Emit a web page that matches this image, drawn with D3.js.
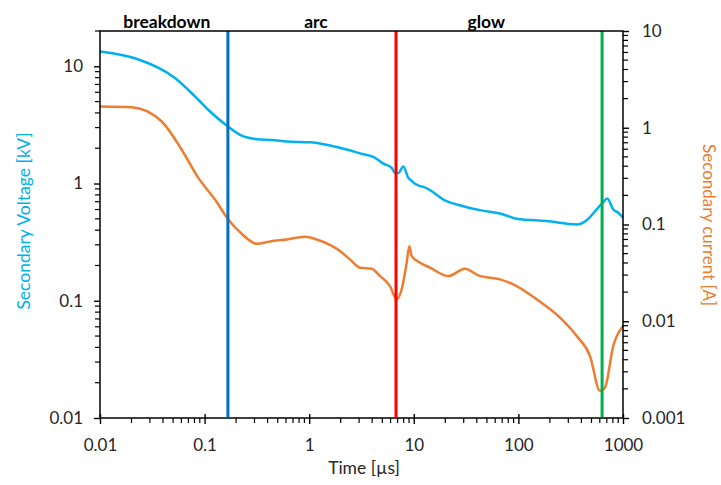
<!DOCTYPE html>
<html><head><meta charset="utf-8">
<script src="https://cdn.jsdelivr.net/npm/d3@7"></script>
<style>
body{margin:0;background:#fff;}
text{font-family:Lato,"Open Sans",sans-serif;}
</style></head>
<body><svg id="c" width="721" height="485"></svg>
<script>
// Time [µs] samples and values
const voltageTime = [0.01,0.0216,0.0521,0.0809,0.108,0.167,0.226,0.303,0.471,0.61,1.02,1.58,2.28,3.29,4.1,5.11,6.15,6.61,7.11,7.94,8.86,9.2,11.46,12.33,20.6,29.7,42.9,71.7,96.3,186,361,450,560,640,708,807,902,1000];
const voltageKV   = [13.4,11.7,7.94,5.53,4.26,3.07,2.56,2.40,2.34,2.28,2.25,2.11,1.95,1.78,1.69,1.48,1.36,1.23,1.23,1.40,1.12,1.08,0.95,0.937,0.707,0.641,0.593,0.545,0.501,0.478,0.448,0.487,0.601,0.686,0.745,0.601,0.563,0.511];
const currentTime = [0.01,0.0201,0.0389,0.0604,0.0871,0.1257,0.1685,0.230,0.315,0.422,0.61,0.912,1.18,1.97,2.45,3.06,3.96,4.75,5.92,6.86,7.66,8.55,9.06,9.55,11.46,14.3,21.4,30.9,41.4,66.7,89.4,149.6,250,361,483,603,673,807,1000];
const currentA    = [1.66,1.63,1.16,0.593,0.303,0.181,0.1127,0.0789,0.0632,0.0668,0.070,0.0747,0.070,0.0531,0.0436,0.0358,0.0349,0.0293,0.0231,0.01686,0.0214,0.0403,0.0597,0.0471,0.0403,0.0358,0.0293,0.0349,0.0298,0.0271,0.0241,0.01686,0.01092,0.00705,0.00439,0.00191,0.00207,0.00556,0.00895];
const phaseLabels = ["breakdown","arc","glow"];
const phaseLabelTime = [0.0436,1.16,49.3];
const boundaryTime = [0.167,6.76,631];
const boundaryColor = ["#0070C0","#FF0000","#00B050"];
const xTicks = [0.01,0.1,1,10,100,1000];
const leftTicks = [0.01,0.1,1,10];
const rightTicks = [0.001,0.01,0.1,1,10];

const svg = d3.select("#c");
const L=100, R=623, T=31, B=418;
const x = d3.scaleLog().domain([0.01,1000]).range([L,R]);
const yL = d3.scaleLog().domain([0.01,20]).range([B,T]);
const yR = d3.scaleLog().domain([0.001,10]).range([B,T]);

function minors(scale){
  const [a,b]=scale.domain(); const out=[];
  for(let e=Math.floor(Math.log10(a)); e<=Math.ceil(Math.log10(b)); e++){
    for(let m=2;m<=9;m++){const v=m*Math.pow(10,e); if(v>=a*0.999&&v<=b*1.001) out.push(v);}
  }
  return out;
}
const fmt = d => d>=1 ? d3.format("d")(d) : String(+d.toPrecision(1));
const tickColor="#000", labelColor="#262626";
const FS="17px";

// minor ticks
const g = svg.append("g");
minors(yL).forEach(v=>g.append("line").attr("x1",L-5).attr("x2",L).attr("y1",yL(v)).attr("y2",yL(v)).attr("stroke",tickColor).attr("stroke-width",1.2));
minors(yR).forEach(v=>g.append("line").attr("x1",R).attr("x2",R+5).attr("y1",yR(v)).attr("y2",yR(v)).attr("stroke",tickColor).attr("stroke-width",1.2));
minors(x).forEach(v=>g.append("line").attr("x1",x(v)).attr("x2",x(v)).attr("y1",B).attr("y2",B+5).attr("stroke",tickColor).attr("stroke-width",1.2));

// major axes via d3 axes
const axL = svg.append("g").attr("transform",`translate(${L},0)`).call(d3.axisLeft(yL).tickValues(leftTicks).tickFormat(fmt).tickSize(6).tickPadding(11));
const axR = svg.append("g").attr("transform",`translate(${R},0)`).call(d3.axisRight(yR).tickValues(rightTicks).tickFormat(fmt).tickSize(6).tickPadding(13));
const axB = svg.append("g").attr("transform",`translate(0,${B})`).call(d3.axisBottom(x).tickValues(xTicks).tickFormat(fmt).tickSize(6).tickPadding(15));
[axL,axR,axB].forEach(a=>{
  a.select(".domain").remove();
  a.selectAll(".tick line").attr("stroke",tickColor).attr("stroke-width",1.4);
  a.selectAll(".tick text").attr("fill",labelColor).style("font-size",FS).style("font-family","Lato, sans-serif");
});
axB.selectAll(".tick line").attr("y1",-4);

// data lines
const lineV = d3.line().x((d,i)=>x(voltageTime[i])).y(d=>yL(d)).curve(d3.curveMonotoneX);
const lineI = d3.line().x((d,i)=>x(currentTime[i])).y(d=>yR(d)).curve(d3.curveMonotoneX);
svg.append("path").attr("d",lineV(voltageKV)).attr("fill","none").attr("stroke","#00B0F0").attr("stroke-width",2.5);
svg.append("path").attr("d",lineI(currentA)).attr("fill","none").attr("stroke","#ED7D31").attr("stroke-width",2.5);

// boundary lines
boundaryTime.forEach((t,i)=>svg.append("line").attr("x1",x(t)).attr("x2",x(t)).attr("y1",T).attr("y2",B-1).attr("stroke",boundaryColor[i]).attr("stroke-width",3));

// frame
svg.append("rect").attr("x",L).attr("y",T).attr("width",R-L).attr("height",B-T).attr("fill","none").attr("stroke","#000").attr("stroke-width",1.5);

// phase labels
phaseLabels.forEach((s,i)=>svg.append("text").attr("x",x(phaseLabelTime[i])).attr("y",27.5).attr("text-anchor","middle")
  .style("font-weight","bold").style("font-size","17.5px").attr("fill","#000").text(s));

// axis titles
svg.append("text").attr("x",364).attr("y",474).attr("text-anchor","middle").style("font-size","17.5px").attr("fill",labelColor).text("Time [µs]");
svg.append("text").attr("transform","translate(30,221) rotate(-90)").attr("text-anchor","middle").style("font-size","17.5px").attr("fill","#00B0F0").text("Secondary Voltage [kV]");
svg.append("text").attr("transform","translate(703,225) rotate(90)").attr("text-anchor","middle").style("font-size","17px").attr("fill","#ED7D31").text("Secondary current [A]");
</script></body></html>
